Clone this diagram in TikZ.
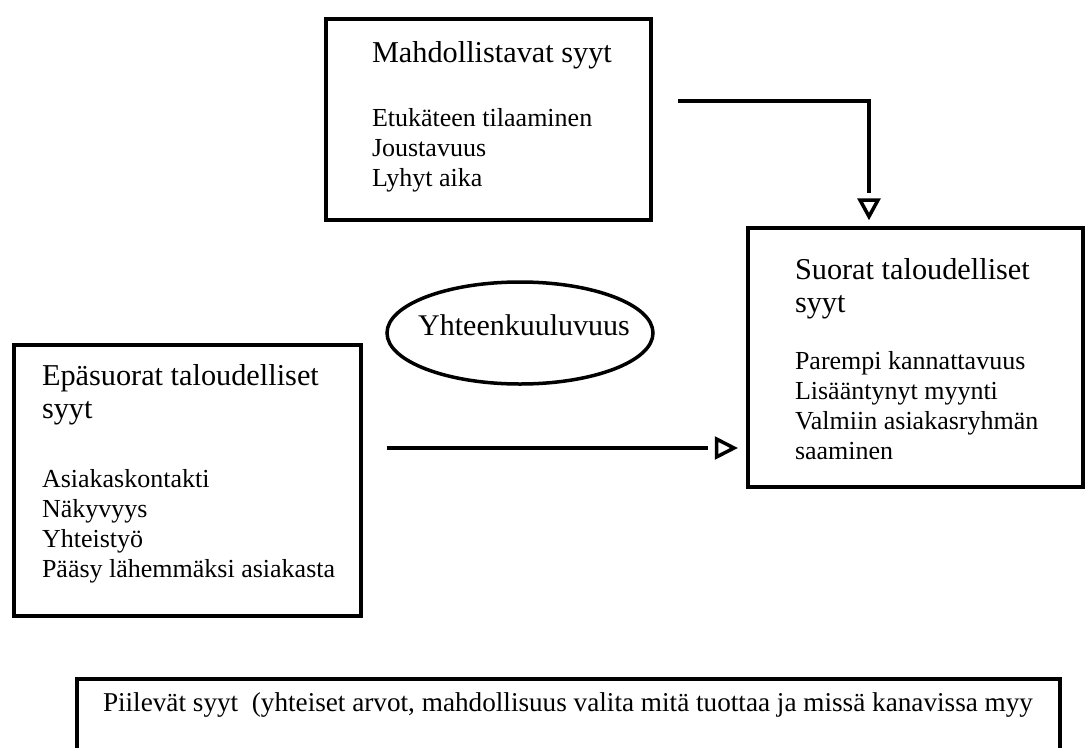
\documentclass[tikz,border=0pt]{standalone}
\usepackage{fontspec}
\setmainfont{Liberation Serif}
\usetikzlibrary{shapes.geometric}

\tikzset{
  every node/.style={inner sep=0pt, outer sep=0pt},
  frame/.style={draw, rectangle, line width=4pt, anchor=north west},
  conn/.style={line width=3.5pt, line cap=butt, line join=miter},
  tiphead/.style={draw, fill=white, line width=3.5pt, line join=miter},
  head/.style={font=\fontsize{30.3}{34}\selectfont, anchor=base west},
  body/.style={font=\fontsize{26}{30}\selectfont, anchor=base west},
  oval/.style={draw, ellipse, line width=3.5pt},
}

\begin{document}
\begin{tikzpicture}[x=1pt, y=-1pt]
  \clip (0,0) rectangle (1086,747);
  \fill[white] (0,0) rectangle (1086,747);

  % enabling reasons
  \node[frame, minimum width=325pt, minimum height=201pt] (M) at (326,19) {};
  \node[head] (mT) at (372,62.7) {Mahdollistavat syyt};
  \foreach \t [count=\i] in {Etukäteen tilaaminen, Joustavuus, Lyhyt aika}
    \node[body] (m\i) at (372, 96.7+30*\i) {\t};

  % direct economic reasons
  \node[frame, minimum width=335pt, minimum height=259pt] (S) at (748,228) {};
  \node[head] (sT1) at (795,279) {Suorat taloudelliset};
  \node[head] (sT2) at (795,312) {syyt};
  \foreach \t [count=\i] in {Parempi kannattavuus, Lisääntynyt myynti, Valmiin asiakasryhmän, saaminen}
    \node[body] (s\i) at (795, 339+30*\i) {\t};

  % indirect economic reasons
  \node[frame, minimum width=347pt, minimum height=271pt] (E) at (14,345) {};
  \node[head] (eT1) at (42,385) {Epäsuorat taloudelliset};
  \node[head] (eT2) at (42,418) {syyt};
  \foreach \t [count=\i] in {Asiakaskontakti, Näkyvyys, Yhteistyö, Pääsy lähemmäksi asiakasta}
    \node[body] (e\i) at (42, 457.5+30*\i) {\t};

  % belonging
  \node[oval, minimum width=266pt, minimum height=102pt] (Y) at (520,333) {};
  \node[font=\fontsize{30}{34}\selectfont, anchor=base] (yT) at (524,335) {Yhteenkuuluvuus};

  % hidden reasons
  \node[frame, minimum width=983pt, minimum height=120pt] (P) at (77,679) {};
  \node[font=\fontsize{27.2}{32}\selectfont, anchor=base west] (pT) at (103,711)
    {Piilevät syyt\ \ (yhteiset arvot, mahdollisuus valita mitä tuottaa ja missä kanavissa myy};

  % connector from the enabling reasons down to the direct reasons
  \coordinate (c1s) at (678,101);
  \coordinate (c1e) at (869,193);
  \coordinate (h1) at (869,216.5);
  \draw[conn] (c1s) -| (c1e);
  \draw[tiphead] (h1) -- ++(-9,-16.5) -- ++(18,0) -- cycle;

  % connector from the indirect reasons to the direct reasons
  \coordinate (c2s) at (387,448);
  \coordinate (c2e) at (708,448);
  \coordinate (h2) at (734,448);
  \draw[conn] (c2s) -- (c2e);
  \draw[tiphead] (h2) -- ++(-17.5,-9) -- ++(0,18) -- cycle;
\end{tikzpicture}
\end{document}
